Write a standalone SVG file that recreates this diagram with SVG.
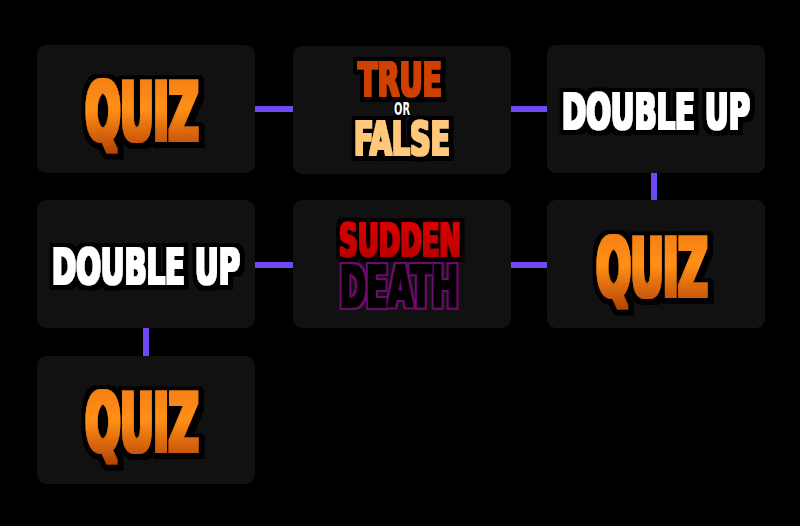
<svg xmlns="http://www.w3.org/2000/svg" width="800" height="526" viewBox="0 0 800 526">
<defs>
<linearGradient id="quizGrad" x1="0" y1="0" x2="0" y2="1">
<stop offset="0" stop-color="#f0780e"/>
<stop offset="0.45" stop-color="#ff8e16"/>
<stop offset="1" stop-color="#a83600"/>
</linearGradient>
<linearGradient id="suddenGrad" x1="0" y1="0" x2="0" y2="1">
<stop offset="0" stop-color="#e00000"/>
<stop offset="1" stop-color="#b00000"/>
</linearGradient>
<filter id="heavyL" x="-20%" y="-40%" width="140%" height="180%">
<feMorphology in="SourceGraphic" operator="dilate" radius="1.6" result="bold"/>
<feMorphology in="SourceAlpha" operator="dilate" radius="5.5" result="outl"/>
<feFlood flood-color="#000000"/>
<feComposite in2="outl" operator="in" result="blk"/>
<feOffset in="blk" dx="1.5" dy="1.5" result="sh"/>
<feMerge><feMergeNode in="sh"/><feMergeNode in="blk"/><feMergeNode in="bold"/></feMerge>
</filter>
<filter id="heavyM" x="-20%" y="-40%" width="140%" height="180%">
<feMorphology in="SourceGraphic" operator="dilate" radius="1.2" result="bold"/>
<feMorphology in="SourceAlpha" operator="dilate" radius="4.5" result="outl"/>
<feFlood flood-color="#000000"/>
<feComposite in2="outl" operator="in" result="blk"/>
<feOffset in="blk" dx="1" dy="1" result="sh"/>
<feMerge><feMergeNode in="sh"/><feMergeNode in="blk"/><feMergeNode in="bold"/></feMerge>
</filter>
<filter id="deathF" x="-20%" y="-40%" width="140%" height="180%">
<feMorphology in="SourceGraphic" operator="dilate" radius="1.2" result="bold"/>
<feMorphology in="SourceAlpha" operator="dilate" radius="3.2" result="outl"/>
<feFlood flood-color="#6a0a6a"/>
<feComposite in2="outl" operator="in" result="pur"/>
<feMerge><feMergeNode in="pur"/><feMergeNode in="bold"/></feMerge>
</filter>
</defs>
<style>
.box{fill:#111111;}
.conn{stroke:#7048f6;stroke-width:6;fill:none;}
.t{font-family:"DejaVu Sans Condensed","DejaVu Sans","Liberation Sans Narrow",sans-serif;font-weight:bold;text-anchor:middle;}
.quiz{font-size:80px;fill:url(#quizGrad);filter:url(#heavyL);}
.dbl{font-size:50px;fill:#ffffff;filter:url(#heavyM);}
.tru{font-size:47px;fill:#d04000;filter:url(#heavyM);}
.or{font-size:17px;fill:#ffffff;stroke:#000000;stroke-width:4px;paint-order:stroke;stroke-linejoin:round;}
.fal{font-size:47px;fill:#ffc87a;filter:url(#heavyM);}
.sud{font-size:44px;fill:url(#suddenGrad);filter:url(#heavyM);}
.dea{font-size:57px;fill:#060606;filter:url(#deathF);}
</style>
<rect width="800" height="526" fill="#000000"/>
<g id="connectors">
<line class="conn" x1="255" y1="109" x2="293" y2="109"/>
<line class="conn" x1="511" y1="109" x2="547" y2="109"/>
<line class="conn" x1="654" y1="172" x2="654" y2="201"/>
<line class="conn" x1="255" y1="265" x2="293" y2="265"/>
<line class="conn" x1="511" y1="265" x2="547" y2="265"/>
<line class="conn" x1="146" y1="328" x2="146" y2="356"/>
</g>
<g id="node-quiz-1">
<rect class="box" x="37" y="45" width="218" height="128" rx="9"/>
<text class="t quiz" x="142" y="140" textLength="113" lengthAdjust="spacingAndGlyphs">QUIZ</text>
</g>
<g id="node-true-or-false">
<rect class="box" x="293" y="46" width="218" height="128" rx="9"/>
<text class="t tru" x="400" y="96" textLength="84" lengthAdjust="spacingAndGlyphs">TRUE</text>
<text class="t or" x="402" y="115" textLength="16" lengthAdjust="spacingAndGlyphs">OR</text>
<text class="t fal" x="402" y="155" textLength="96" lengthAdjust="spacingAndGlyphs">FALSE</text>
</g>
<g id="node-double-up-1">
<rect class="box" x="547" y="45" width="218" height="128" rx="9"/>
<text class="t dbl" x="656" y="129" textLength="188" lengthAdjust="spacingAndGlyphs">DOUBLE UP</text>
</g>
<g id="node-double-up-2">
<rect class="box" x="37" y="200" width="218" height="128" rx="9"/>
<text class="t dbl" x="146" y="284" textLength="188" lengthAdjust="spacingAndGlyphs">DOUBLE UP</text>
</g>
<g id="node-sudden-death">
<rect class="box" x="293" y="200" width="218" height="128" rx="9"/>
<text class="t sud" x="400" y="256" textLength="122" lengthAdjust="spacingAndGlyphs">SUDDEN</text>
<text class="t dea" x="399" y="307" textLength="119" lengthAdjust="spacingAndGlyphs">DEATH</text>
</g>
<g id="node-quiz-2">
<rect class="box" x="547" y="200" width="218" height="128" rx="9"/>
<text class="t quiz" x="652" y="296" textLength="111" lengthAdjust="spacingAndGlyphs">QUIZ</text>
</g>
<g id="node-quiz-3">
<rect class="box" x="37" y="356" width="218" height="128" rx="9"/>
<text class="t quiz" x="142" y="451" textLength="113" lengthAdjust="spacingAndGlyphs">QUIZ</text>
</g>
</svg>
